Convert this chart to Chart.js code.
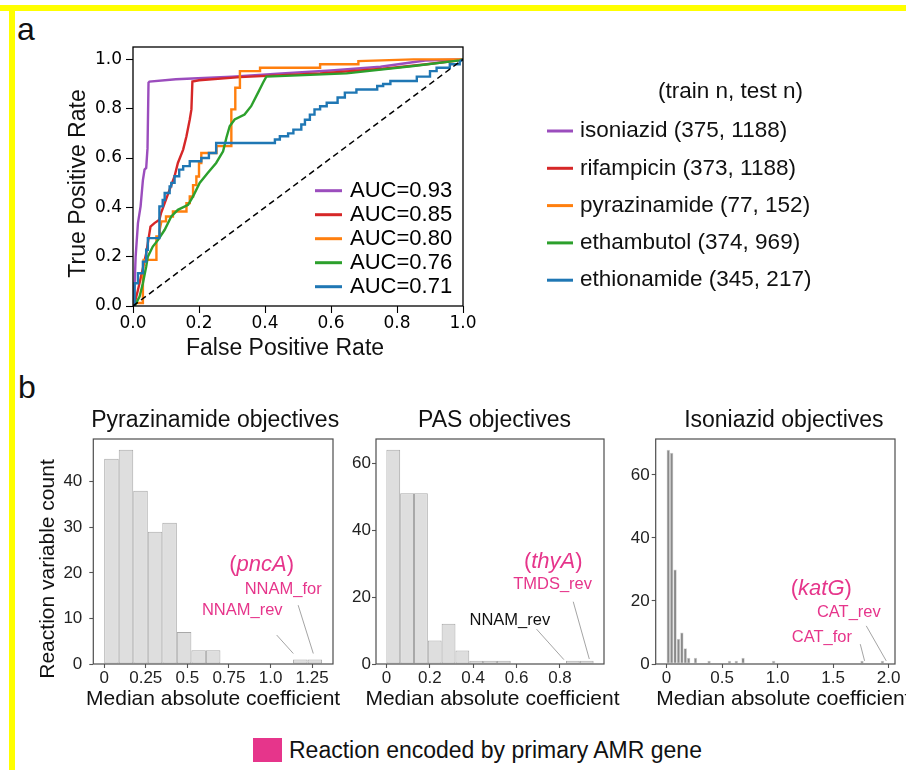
<!DOCTYPE html>
<html>
<head>
<meta charset="utf-8">
<title>AMR classifiers and objective coefficients</title>
<style>
  body { margin: 0; background: #fff; }
  #page { position: relative; width: 906px; height: 770px; overflow: hidden;
          font-family: "Liberation Sans", Arial, sans-serif; color: #111; }
  canvas { position: absolute; }
  .band { position: absolute; background: #ffff00; }
  .tag { position: absolute; font-size: 32px; line-height: 1; }
  #keyBox { position: absolute; left: 253px; top: 738px; width: 29px; height: 24px; background: #e6358b; }
  #keyText { position: absolute; left: 289px; top: 739px; font-size: 23px; line-height: 1; white-space: nowrap; }
</style>
<script src="https://cdn.jsdelivr.net/npm/chart.js@4.4.1/dist/chart.umd.min.js"></script>
</head>
<body>
<div id="page">
  <div class="band" style="left:0;top:5px;width:906px;height:6px"></div>
  <div class="band" style="left:9px;top:5px;width:6px;height:765px"></div>
  <div class="tag" style="left:17px;top:13px">a</div>
  <div class="tag" style="left:18px;top:371px">b</div>
  <canvas id="roc" width="906" height="370" style="left:0;top:0"></canvas>
  <canvas id="pza" width="330" height="325" style="left:20px;top:395px"></canvas>
  <canvas id="pas" width="280" height="325" style="left:345px;top:395px"></canvas>
  <canvas id="inh" width="281" height="325" style="left:625px;top:395px"></canvas>
  <div id="keyBox"></div>
  <div id="keyText">Reaction encoded by primary AMR gene</div>
</div>

<script>
// ---- panel a: ROC curves ----
const drugs = ['isoniazid', 'rifampicin', 'pyrazinamide', 'ethambutol', 'ethionamide'];
const trainN = [375, 373, 77, 374, 345];
const testN = [1188, 1188, 152, 969, 217];
const aucs = ['0.93', '0.85', '0.80', '0.76', '0.71'];

const inhFpr = [0, 0.003, 0.005, 0.008, 0.015, 0.023, 0.03, 0.035, 0.04, 0.044, 0.047, 0.05, 0.13, 0.18, 0.3, 0.45, 0.6, 0.75, 0.885, 1];
const inhTpr = [0, 0.05, 0.09, 0.2, 0.336, 0.404, 0.51, 0.553, 0.56, 0.64, 0.905, 0.91, 0.919, 0.922, 0.93, 0.943, 0.955, 0.97, 0.995, 1];

const rifFpr = [0, 0.005, 0.015, 0.03, 0.04, 0.045, 0.053, 0.065, 0.08, 0.085, 0.096, 0.111, 0.126, 0.136, 0.152, 0.162, 0.172, 0.177, 0.18, 0.2, 0.324, 0.567, 0.758, 0.89, 0.97, 1];
const rifTpr = [0, 0.011, 0.065, 0.153, 0.214, 0.255, 0.322, 0.336, 0.35, 0.377, 0.417, 0.472, 0.526, 0.58, 0.634, 0.688, 0.756, 0.797, 0.91, 0.915, 0.928, 0.943, 0.962, 0.98, 0.993, 1];

const pzaFpr = [0, 0.005, 0.028, 0.03, 0.032, 0.071, 0.071, 0.081, 0.081, 0.086, 0.1, 0.1, 0.121, 0.121, 0.162, 0.162, 0.172, 0.172, 0.182, 0.182, 0.192, 0.192, 0.2, 0.2, 0.207, 0.207, 0.253, 0.253, 0.298, 0.298, 0.31, 0.31, 0.324, 0.324, 0.385, 0.385, 0.567, 0.567, 0.683, 0.683, 0.85, 1];
const pzaTpr = [0, 0.012, 0.012, 0.13, 0.187, 0.187, 0.282, 0.282, 0.31, 0.343, 0.343, 0.363, 0.363, 0.383, 0.383, 0.417, 0.417, 0.444, 0.444, 0.49, 0.49, 0.525, 0.525, 0.58, 0.58, 0.62, 0.62, 0.648, 0.648, 0.797, 0.797, 0.885, 0.885, 0.952, 0.952, 0.966, 0.966, 0.98, 0.98, 0.993, 1, 1];

const embFpr = [0, 0.005, 0.02, 0.03, 0.04, 0.045, 0.06, 0.076, 0.096, 0.116, 0.136, 0.167, 0.182, 0.202, 0.227, 0.252, 0.273, 0.283, 0.293, 0.308, 0.338, 0.358, 0.379, 0.394, 0.404, 0.5, 0.647, 0.85, 0.99, 1];
const embTpr = [0, 0, 0.038, 0.092, 0.16, 0.2, 0.241, 0.268, 0.309, 0.363, 0.39, 0.41, 0.444, 0.499, 0.54, 0.58, 0.627, 0.682, 0.729, 0.756, 0.776, 0.81, 0.865, 0.905, 0.93, 0.935, 0.943, 0.973, 0.996, 1];

const etaFpr = [0, 0.005, 0.005, 0.015, 0.015, 0.03, 0.03, 0.04, 0.04, 0.045, 0.045, 0.08, 0.08, 0.09, 0.09, 0.096, 0.096, 0.111, 0.111, 0.116, 0.116, 0.126, 0.126, 0.14, 0.14, 0.152, 0.152, 0.172, 0.172, 0.207, 0.207, 0.23, 0.23, 0.252, 0.252,
                0.43, 0.43, 0.445, 0.445, 0.47, 0.47, 0.486, 0.486, 0.51, 0.51, 0.521, 0.521, 0.536, 0.536, 0.55, 0.55, 0.567, 0.567, 0.587, 0.587, 0.62, 0.62, 0.642, 0.642, 0.677, 0.677, 0.74, 0.74, 0.758, 0.758, 0.78, 0.78, 0.86, 0.86, 0.9, 0.9, 0.92, 0.92, 0.96, 0.96, 0.99, 0.99, 1];
const etaTpr = [0, 0, 0.092, 0.092, 0.133, 0.133, 0.18, 0.18, 0.228, 0.228, 0.275, 0.275, 0.404, 0.404, 0.43, 0.43, 0.458, 0.458, 0.485, 0.485, 0.499, 0.499, 0.526, 0.526, 0.553, 0.553, 0.567, 0.567, 0.587, 0.587, 0.6, 0.6, 0.62, 0.62, 0.661,
                0.661, 0.675, 0.675, 0.688, 0.688, 0.7, 0.7, 0.715, 0.715, 0.736, 0.736, 0.755, 0.755, 0.776, 0.776, 0.797, 0.797, 0.81, 0.81, 0.824, 0.824, 0.845, 0.845, 0.865, 0.865, 0.878, 0.878, 0.892, 0.892, 0.9, 0.9, 0.912, 0.912, 0.93, 0.93, 0.952, 0.952, 0.966, 0.966, 0.98, 0.98, 0.99, 1];

const chanceX = [0, 1];
const chanceY = [0, 1];

const rocTicks = [0, 0.2, 0.4, 0.6, 0.8, 1.0];
const rocTickLabels = ['0.0', '0.2', '0.4', '0.6', '0.8', '1.0'];

// ---- panel b: histograms of median absolute coefficient ----
const pzaBinMax = 1.31;
const pzaCounts = [45, 47, 38, 29, 31, 7, 3, 3, 0, 0, 0, 0, 0, 1, 1];
const pzaXTicks = [0, 0.25, 0.5, 0.75, 1.0, 1.25];
const pzaXLabels = ['0', '0.25', '0.5', '0.75', '1.0', '1.25'];
const pzaYTicks = [0, 10, 20, 30, 40];

const pasBinMax = 0.955;
const pasCounts = [64, 51, 51, 7, 12, 4, 1, 1, 1, 0, 0, 0, 0, 1, 1];
const pasXTicks = [0, 0.2, 0.4, 0.6, 0.8];
const pasXLabels = ['0', '0.2', '0.4', '0.6', '0.8'];
const pasYTicks = [0, 20, 40, 60];

const inhBinMax = 1.96;
const inhCounts = [68, 67, 30, 8, 10, 5, 2, 0, 2, 0, 0, 0, 1, 0, 0, 0,
                   0, 0, 1, 0, 1, 0, 2, 0, 0, 0, 0, 0, 0, 0, 0, 1,
                   0, 0, 0, 0, 0, 0, 0, 0, 0, 0, 0, 0, 0, 0, 0, 0,
                   0, 0, 0, 0, 0, 0, 0, 0, 0, 1, 0, 0, 0, 0, 0, 1];
const inhXTicks = [0, 0.5, 1.0, 1.5, 2.0];
const inhXLabels = ['0', '0.5', '1.0', '1.5', '2.0'];
const inhYTicks = [0, 20, 40, 60];

const PINK = '#e6358b';
const SANS = '"Liberation Sans", Arial, sans-serif';

function toPoints(xs, ys) {
  return xs.map((x, i) => ({ x: x, y: ys[i] }));
}

// mixed roman / italic label, centred on x
function drawRich(ctx, parts, x, y, size, color) {
  const fonts = parts.map(p => (p[1] ? 'italic ' : '') + size + 'px ' + SANS);
  let total = 0;
  const widths = parts.map((p, i) => {
    ctx.font = fonts[i];
    const w = ctx.measureText(p[0]).width;
    total += w;
    return w;
  });
  let cur = x - total / 2;
  ctx.fillStyle = color;
  ctx.textAlign = 'left';
  parts.forEach((p, i) => {
    ctx.font = fonts[i];
    ctx.fillText(p[0], cur, y);
    cur += widths[i];
  });
}

// frame, titles and annotations
const decor = {
  id: 'decor',
  afterDraw(chart, args, o) {
    const { ctx, chartArea: a } = chart;
    const sx = chart.scales.x, sy = chart.scales.y;
    const cx = (a.left + a.right) / 2, cy = (a.top + a.bottom) / 2;
    ctx.save();
    ctx.lineWidth = o.frameWidth;
    ctx.strokeStyle = o.frameColor;
    ctx.strokeRect(a.left, a.top, a.right - a.left, a.bottom - a.top);

    ctx.fillStyle = '#111';
    ctx.textBaseline = 'middle';
    ctx.textAlign = 'center';
    if (o.title) {
      ctx.font = '23px ' + SANS;
      ctx.fillText(o.title, cx + o.titleDx, a.top - 18.3);
    }
    ctx.font = o.axisSize + 'px ' + SANS;
    ctx.fillText(o.xTitle, cx + o.xTitleDx, a.bottom + o.xTitleGap);
    if (o.yTitle) {
      ctx.save();
      ctx.translate(a.left - o.yTitleGap, cy + o.yTitleDy);
      ctx.rotate(-Math.PI / 2);
      ctx.fillText(o.yTitle, 0, 0);
      ctx.restore();
    }

    ctx.strokeStyle = '#9a9a9a';
    ctx.lineWidth = 0.9;
    (o.leaders || []).forEach(l => {
      ctx.beginPath();
      ctx.moveTo(sx.getPixelForValue(l[0]), sy.getPixelForValue(l[1]));
      ctx.lineTo(sx.getPixelForValue(l[2]), sy.getPixelForValue(l[3]));
      ctx.stroke();
    });
    (o.notes || []).forEach(n => {
      drawRich(ctx, n.parts, sx.getPixelForValue(n.x), sy.getPixelForValue(n.y), n.size, n.color);
    });
    ctx.restore();
  }
};

// the two keys of panel a
const rocKeys = {
  id: 'rocKeys',
  afterDraw(chart) {
    const { ctx, chartArea: a } = chart;
    const sets = chart.data.datasets;
    ctx.save();
    ctx.textBaseline = 'middle';
    ctx.lineWidth = 3;
    ctx.font = '22px ' + SANS;
    drugs.forEach((d, i) => {
      const y = a.bottom - 115.3 + 24 * i;
      ctx.strokeStyle = sets[i].borderColor;
      ctx.beginPath();
      ctx.moveTo(a.right - 148, y);
      ctx.lineTo(a.right - 121, y);
      ctx.stroke();
      ctx.fillStyle = '#000';
      ctx.textAlign = 'left';
      ctx.fillText('AUC=' + aucs[i], a.right - 113, y);
    });

    ctx.font = '22.5px ' + SANS;
    ctx.fillStyle = '#111';
    ctx.textAlign = 'center';
    ctx.fillText('(train n, test n)', 730.5, 91.7);
    ctx.textAlign = 'left';
    drugs.forEach((d, i) => {
      const y = 131 + 37.3 * i;
      ctx.strokeStyle = sets[i].borderColor;
      ctx.beginPath();
      ctx.moveTo(547, y);
      ctx.lineTo(573, y);
      ctx.stroke();
      ctx.fillText(d + ' (' + trainN[i] + ', ' + testN[i] + ')', 580, y);
    });
    ctx.restore();
  }
};

function axisBase(size, family, color, tickLen, pad, tickColor) {
  return {
    offset: false,
    border: { display: false },
    grid: { display: true, offset: false, drawOnChartArea: false, drawTicks: true,
            tickLength: tickLen, tickColor: tickColor, tickWidth: 1.1 },
    ticks: { autoSkip: false, maxRotation: 0, padding: pad, color: color,
             font: { family: family, size: size } }
  };
}

// ---- ROC chart ----
const rocCurves = [[inhFpr, inhTpr], [rifFpr, rifTpr], [pzaFpr, pzaTpr], [embFpr, embTpr], [etaFpr, etaTpr]];
const drugColors = ['#9b4dbd', '#d62728', '#ff7f0e', '#2ca02c', '#1f77b4'];

const rocSets = rocCurves.map((c, i) => ({
  label: drugs[i],
  data: toPoints(c[0], c[1]),
  borderColor: drugColors[i],
  borderWidth: 2.4,
  pointRadius: 0,
  fill: false,
  tension: 0,
  order: 10 - i
}));
rocSets.push({
  label: 'chance',
  data: toPoints(chanceX, chanceY),
  borderColor: '#000',
  borderWidth: 1.5,
  borderDash: [6, 4],
  pointRadius: 0,
  fill: false,
  order: 0
});

const rocX = axisBase(17, 'DejaVu Sans', '#000', 7, 0, '#000');
Object.assign(rocX, {
  type: 'linear', min: 0, max: 1,
  afterBuildTicks: s => { s.ticks = rocTicks.map(v => ({ value: v })); },
  afterFit: s => { s.height = 64; s.paddingLeft = 0; s.paddingRight = 0; }
});
rocX.ticks.callback = (v, i) => rocTickLabels[i];

const rocY = axisBase(17, 'DejaVu Sans', '#000', 7, 4, '#000');
Object.assign(rocY, {
  type: 'linear', min: 0, max: 1.05,
  afterBuildTicks: s => { s.ticks = rocTicks.map(v => ({ value: v })); },
  afterFit: s => { s.width = 133; s.paddingTop = 0; s.paddingBottom = 0; }
});
rocY.ticks.callback = (v, i) => rocTickLabels[i];

new Chart(document.getElementById('roc'), {
  type: 'line',
  data: { datasets: rocSets },
  options: {
    responsive: false,
    animation: false,
    layout: { padding: { left: 0, top: 47, right: 443, bottom: 0 } },
    scales: { x: rocX, y: rocY },
    plugins: {
      legend: { display: false },
      tooltip: { enabled: false },
      decor: { frameColor: '#000', frameWidth: 1.3, axisSize: 23,
               xTitle: 'False Positive Rate', xTitleDx: -13, xTitleGap: 43,
               yTitle: 'True Positive Rate', yTitleGap: 54, yTitleDy: 7 }
    }
  },
  plugins: [decor, rocKeys]
});

// ---- histogram charts ----
function histChart(id, h) {
  const w = h.binMax / h.counts.length;
  const pts = h.counts.map((c, i) => ({ x: (i + 0.5) * w, y: c }));
  const yMax = Math.max.apply(null, h.counts) * 1.05;

  const xs = axisBase(17, SANS, '#222', 4, 0, '#555');
  Object.assign(xs, {
    type: 'linear', min: -0.05 * h.binMax, max: 1.05 * h.binMax,
    afterBuildTicks: s => { s.ticks = h.xTicks.map(v => ({ value: v })); },
    afterFit: s => { s.height = 50; s.paddingLeft = 0; s.paddingRight = 0; }
  });
  xs.ticks.callback = (v, i) => h.xLabels[i];

  const ys = axisBase(17, SANS, '#222', 4, h.tickPad, '#555');
  Object.assign(ys, {
    type: 'linear', min: 0, max: yMax,
    afterBuildTicks: s => { s.ticks = h.yTicks.map(v => ({ value: v })); },
    afterFit: s => { s.width = h.yW; s.paddingTop = 0; s.paddingBottom = 0; }
  });
  ys.ticks.callback = (v, i) => String(h.yTicks[i]);

  return new Chart(document.getElementById(id), {
    type: 'bar',
    data: {
      datasets: [{
        data: pts,
        backgroundColor: h.fill,
        borderColor: h.edge,
        borderWidth: h.edgeWidth,
        borderSkipped: false,
        inflateAmount: 0,
        barPercentage: 1,
        categoryPercentage: 1
      }]
    },
    options: {
      responsive: false,
      animation: false,
      layout: { padding: { left: 0, top: 44, right: h.padRight, bottom: 6 } },
      scales: { x: xs, y: ys },
      plugins: {
        legend: { display: false },
        tooltip: { enabled: false },
        decor: { frameColor: '#4d4d4d', frameWidth: 1.2, axisSize: 21,
                 title: h.title, titleDx: h.titleDx,
                 xTitle: 'Median absolute coefficient', xTitleDx: h.xTitleDx, xTitleGap: 35.5,
                 yTitle: h.yTitle, yTitleGap: 45, yTitleDy: 17.5,
                 notes: h.notes, leaders: h.leaders }
      }
    },
    plugins: [decor]
  });
}

histChart('pza', {
  binMax: pzaBinMax, counts: pzaCounts, xTicks: pzaXTicks, xLabels: pzaXLabels, yTicks: pzaYTicks,
  fill: '#dedede', edge: '#a8a8a8', edgeWidth: 1, tickPad: 7, yW: 73.3, padRight: 17,
  title: 'Pyrazinamide objectives', titleDx: 2, xTitleDx: 0, yTitle: 'Reaction variable count',
  notes: [
    { parts: [['(', 0], ['pncA', 1], [')', 0]], x: 0.946, y: 21.7, size: 22, color: PINK },
    { parts: [['NNAM_for', 0]], x: 1.076, y: 16.4, size: 16.5, color: PINK },
    { parts: [['NNAM_rev', 0]], x: 0.83, y: 11.7, size: 16.5, color: PINK }
  ],
  leaders: [[1.037, 6.35, 1.137, 2.3], [1.166, 12.9, 1.257, 2.3]]
});

histChart('pas', {
  binMax: pasBinMax, counts: pasCounts, xTicks: pasXTicks, xLabels: pasXLabels, yTicks: pasYTicks,
  fill: '#dedede', edge: '#a8a8a8', edgeWidth: 1, tickPad: 1, yW: 31, padRight: 21,
  title: 'PAS objectives', titleDx: 4.5, xTitleDx: 2.5,
  notes: [
    { parts: [['(', 0], ['thyA', 1], [')', 0]], x: 0.769, y: 30.4, size: 22, color: PINK },
    { parts: [['TMDS_rev', 0]], x: 0.766, y: 23.7, size: 16.5, color: PINK },
    { parts: [['NNAM_rev', 0]], x: 0.569, y: 13.1, size: 16.5, color: '#111' }
  ],
  leaders: [[0.692, 10.4, 0.818, 1.3], [0.861, 18.6, 0.935, 1.5]]
});

histChart('inh', {
  binMax: inhBinMax, counts: inhCounts, xTicks: inhXTicks, xLabels: inhXLabels, yTicks: inhYTicks,
  fill: '#8a8a8a', edge: '#cfcfcf', edgeWidth: 0.7, tickPad: 2, yW: 30.7, padRight: 11,
  title: 'Isoniazid objectives', titleDx: 8.5, xTitleDx: 8,
  notes: [
    { parts: [['(', 0], ['katG', 1], [')', 0]], x: 1.394, y: 23.7, size: 22, color: PINK },
    { parts: [['CAT_rev', 0]], x: 1.642, y: 16.5, size: 16.5, color: PINK },
    { parts: [['CAT_for', 0]], x: 1.399, y: 8.4, size: 16.5, color: PINK }
  ],
  leaders: [[1.745, 6.3, 1.784, 1.0], [1.799, 12.1, 1.979, 1.0]]
});
</script>
</body>
</html>
